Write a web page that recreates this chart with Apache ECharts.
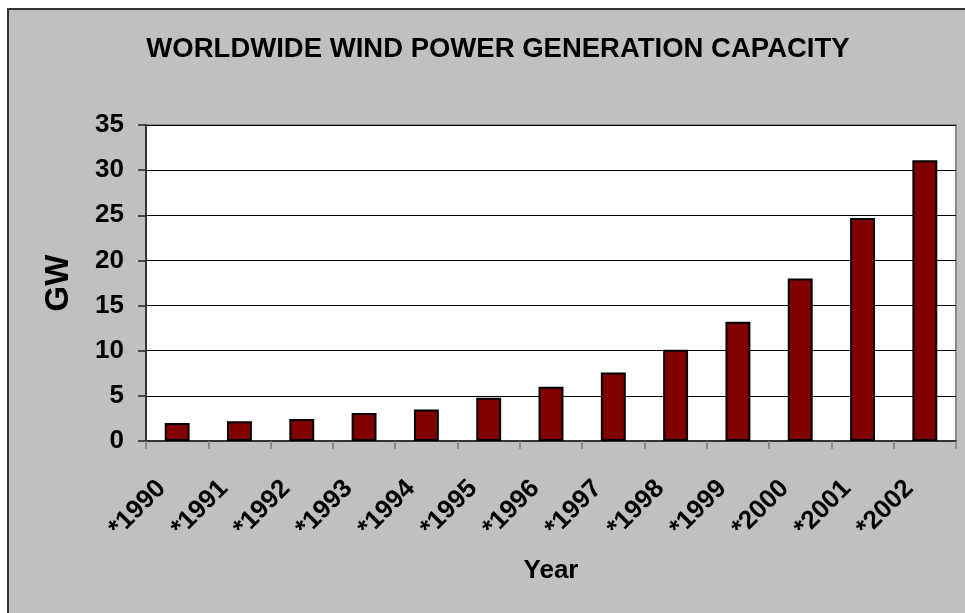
<!DOCTYPE html>
<html>
<head>
<meta charset="utf-8">
<script src="https://cdn.jsdelivr.net/npm/echarts@6/dist/echarts.min.js"></script>
<style>
html,body{margin:0;padding:0;background:#fff;}
#c{width:965px;height:613px;}
</style>
</head>
<body>
<div id="c"></div>
<script>
const categories = ['*1990','*1991','*1992','*1993','*1994','*1995','*1996','*1997','*1998','*1999','*2000','*2001','*2002'];
const capacityGW = [2.0, 2.2, 2.45, 3.1, 3.5, 4.8, 6.0, 7.6, 10.1, 13.2, 18.0, 24.7, 31.1];
const yTicks = [0, 5, 10, 15, 20, 25, 30, 35];

const FONT = '"Liberation Sans", Arial, sans-serif';
const chart = echarts.init(document.getElementById('c'));
chart.setOption({
  backgroundColor: '#ffffff',
  animation: false,
  graphic: [{
    type: 'rect', z: -10, silent: true,
    shape: {x: 8, y: 9, width: 1000, height: 700},
    style: {fill: '#c0c0c0', stroke: '#333333', lineWidth: 2}
  }],
  title: {
    text: 'WORLDWIDE WIND POWER GENERATION CAPACITY',
    left: 493, top: 30, textAlign: 'center',
    textStyle: {fontFamily: FONT, fontWeight: 'bold', fontSize: 27.5, color: '#000'}
  },
  grid: {
    left: 146, right: 9, top: 125, bottom: 172,
    show: true, backgroundColor: '#ffffff', borderColor: '#8a8a8a', borderWidth: 2
  },
  xAxis: {
    type: 'category',
    data: categories,
    name: 'Year',
    nameLocation: 'middle',
    nameGap: 117,
    nameTextStyle: {fontFamily: FONT, fontWeight: 'bold', fontSize: 26, color: '#000'},
    axisLine: {lineStyle: {color: '#333333', width: 2}},
    axisTick: {show: true, length: 8, lineStyle: {color: '#808080', width: 1.5}},
    axisLabel: {
      rotate: 45, margin: 28, interval: 0, padding: [0, 22, 0, 0],
      fontFamily: FONT, fontWeight: 'bold', fontSize: 26, color: '#000'
    }
  },
  yAxis: {
    type: 'value',
    min: 0, max: 35, interval: 5,
    name: 'GW',
    nameLocation: 'middle',
    nameGap: 71,
    nameRotate: 90,
    nameTextStyle: {fontFamily: FONT, fontWeight: 'bold', fontSize: 33, color: '#000'},
    axisLine: {show: true, lineStyle: {color: '#333333', width: 2}},
    axisTick: {show: true, length: 8, lineStyle: {color: '#222222', width: 1.5}},
    axisLabel: {
      margin: 22,
      fontFamily: FONT, fontWeight: 'bold', fontSize: 26, color: '#000',
      formatter: v => yTicks.includes(v) ? String(v) : ''
    },
    splitLine: {show: true, lineStyle: {color: '#000000', width: 1}}
  },
  series: [{
    type: 'bar',
    data: capacityGW,
    barWidth: '40%',
    itemStyle: {color: '#800000', borderColor: '#000000', borderWidth: 2}
  }]
});
</script>
</body>
</html>
